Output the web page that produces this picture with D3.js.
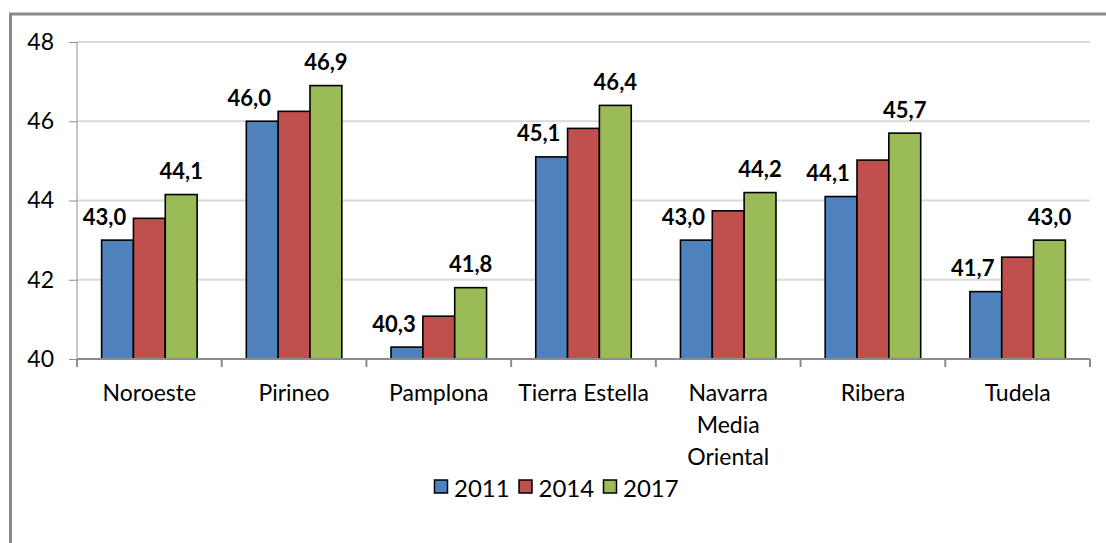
<!DOCTYPE html>
<html>
<head>
<meta charset="utf-8">
<script src="https://cdn.jsdelivr.net/npm/d3@7"></script>
<style>
  body { margin: 0; background: #fff; }
  text { font-family: Lato, "Open Sans", sans-serif; fill: #000; }
  .axis path, .axis line { stroke: #8c8c8c; }
</style>
</head>
<body>
<div class="chart"></div>
<script>
// chart data
var categories = ["Noroeste", "Pirineo", "Pamplona", "Tierra Estella", "Navarra Media Oriental", "Ribera", "Tudela"];
var years = ["2011", "2014", "2017"];
var values2011 = [43.0, 46.0, 40.3, 45.1, 43.0, 44.1, 41.7];
var values2014 = [43.55, 46.25, 41.08, 45.82, 43.74, 45.02, 42.57];
var values2017 = [44.15, 46.9, 41.8, 46.4, 44.2, 45.7, 43.0];
var yTicks = [40, 42, 44, 46, 48];
var colors = ["#4f81bd", "#c0504d", "#9bbb59"];

var svgWidth = 1106;
var svgHeight = 543;

var margin = { top: 42, right: 16, bottom: 184, left: 77 };
var width = svgWidth - margin.left - margin.right;
var height = svgHeight - margin.top - margin.bottom;

var svg = d3.select(".chart")
  .append("svg")
  .attr("width", svgWidth)
  .attr("height", svgHeight);

// outer frame (top and left only are visible in the picture)
svg.append("path")
  .attr("d", `M10.5,${svgHeight} L10.5,14 L${svgWidth},14`)
  .attr("fill", "none")
  .attr("stroke", "#8a8a8a")
  .attr("stroke-width", 3);

var chartGroup = svg.append("g")
  .attr("transform", `translate(${margin.left}, ${margin.top})`);

var series = [values2011, values2014, values2017];

var xScale = d3.scaleBand()
  .domain(categories)
  .range([0, width])
  .paddingInner(0.34)
  .paddingOuter(0.17);

var xSub = d3.scaleBand()
  .domain(years)
  .range([0, xScale.bandwidth()]);

var yScale = d3.scaleLinear()
  .domain([40, 48])
  .range([height, 0]);

// gridlines
chartGroup.append("g")
  .selectAll("line")
  .data(yTicks.slice(1))
  .enter()
  .append("line")
  .attr("x1", 0)
  .attr("x2", width)
  .attr("y1", d => yScale(d))
  .attr("y2", d => yScale(d))
  .attr("stroke", "#d9d9d9")
  .attr("stroke-width", 2);

// y axis
var leftAxis = d3.axisLeft(yScale)
  .tickValues(yTicks)
  .tickSize(8)
  .tickPadding(15)
  .tickFormat(d3.format("d"));

chartGroup.append("g")
  .attr("class", "axis")
  .call(leftAxis)
  .call(g => g.selectAll("text").attr("font-size", 23).attr("font-family", "Lato"))
  .call(g => g.select(".domain").attr("d", `M0,${height + 8}V0`));

// bars
series.forEach(function (vals, i) {
  chartGroup.append("g")
    .selectAll("rect")
    .data(vals)
    .enter()
    .append("rect")
    .attr("x", (d, j) => xScale(categories[j]) + xSub(years[i]))
    .attr("y", d => yScale(d))
    .attr("width", xSub.bandwidth())
    .attr("height", d => height - yScale(d))
    .attr("fill", colors[i])
    .attr("stroke", "#000")
    .attr("stroke-width", 1.6);
});

// x axis
var xAxisG = chartGroup.append("g")
  .attr("class", "axis")
  .attr("transform", `translate(0, ${height})`);

xAxisG.append("line")
  .attr("x1", 0).attr("x2", width)
  .attr("y1", 0).attr("y2", 0)
  .attr("stroke", "#8c8c8c")
  .attr("stroke-width", 2);

var step = xScale.step();
xAxisG.selectAll(".tick-mark")
  .data(d3.range(categories.length + 1))
  .enter()
  .append("line")
  .attr("class", "tick-mark")
  .attr("x1", d => d * step)
  .attr("x2", d => d * step)
  .attr("y1", 0)
  .attr("y2", 8)
  .attr("stroke", "#8c8c8c")
  .attr("stroke-width", 2);

// category labels, wrapped to the band
var measure = svg.append("text").attr("font-size", 23).attr("font-family", "Lato");
function wrap(label, maxWidth) {
  var words = label.split(" ");
  var lines = [];
  var line = words[0];
  for (var k = 1; k < words.length; k++) {
    measure.text(line + " " + words[k]);
    if (measure.node().getComputedTextLength() > maxWidth) {
      lines.push(line);
      line = words[k];
    } else {
      line = line + " " + words[k];
    }
  }
  lines.push(line);
  return lines;
}

categories.forEach(function (c) {
  var lines = wrap(c, step - 4);
  var t = xAxisG.append("text")
    .attr("text-anchor", "middle")
    .attr("font-size", 23)
    .attr("x", xScale(c) + xScale.bandwidth() / 2)
    .attr("y", 33)
    .attr("dominant-baseline", "central");
  lines.forEach(function (l, k) {
    t.append("tspan")
      .attr("x", xScale(c) + xScale.bandwidth() / 2)
      .attr("y", 33 + k * 32)
      .text(l);
  });
});
measure.remove();

// data labels for 2011 and 2017
var fmt = d => d.toFixed(1).replace(".", ",");

chartGroup.append("g")
  .selectAll("text")
  .data(values2011)
  .enter()
  .append("text")
  .attr("x", (d, j) => xScale(categories[j]) + xSub("2011") + xSub.bandwidth() / 2 - 13)
  .attr("y", d => yScale(d) - 24)
  .attr("text-anchor", "middle")
  .attr("dominant-baseline", "central")
  .attr("font-size", 22)
  .attr("font-weight", "bold")
  .text(fmt);

chartGroup.append("g")
  .selectAll("text")
  .data(values2017)
  .enter()
  .append("text")
  .attr("x", (d, j) => xScale(categories[j]) + xSub("2017") + xSub.bandwidth() / 2)
  .attr("y", d => yScale(d) - 24)
  .attr("text-anchor", "middle")
  .attr("dominant-baseline", "central")
  .attr("font-size", 22)
  .attr("font-weight", "bold")
  .text(fmt);

// legend
var legend = svg.append("g")
  .attr("transform", "translate(434, 487)");

var items = legend.selectAll("g")
  .data(years)
  .enter()
  .append("g")
  .attr("transform", (d, i) => `translate(${i * 84.5}, 0)`);

items.append("rect")
  .attr("x", 0.5)
  .attr("y", -7)
  .attr("width", 13)
  .attr("height", 13)
  .attr("fill", (d, i) => colors[i])
  .attr("stroke", "#000")
  .attr("stroke-width", 1.5);

items.append("text")
  .attr("x", 20)
  .attr("y", 0)
  .attr("dominant-baseline", "central")
  .attr("font-size", 24)
  .text(d => d);
</script>
</body>
</html>
